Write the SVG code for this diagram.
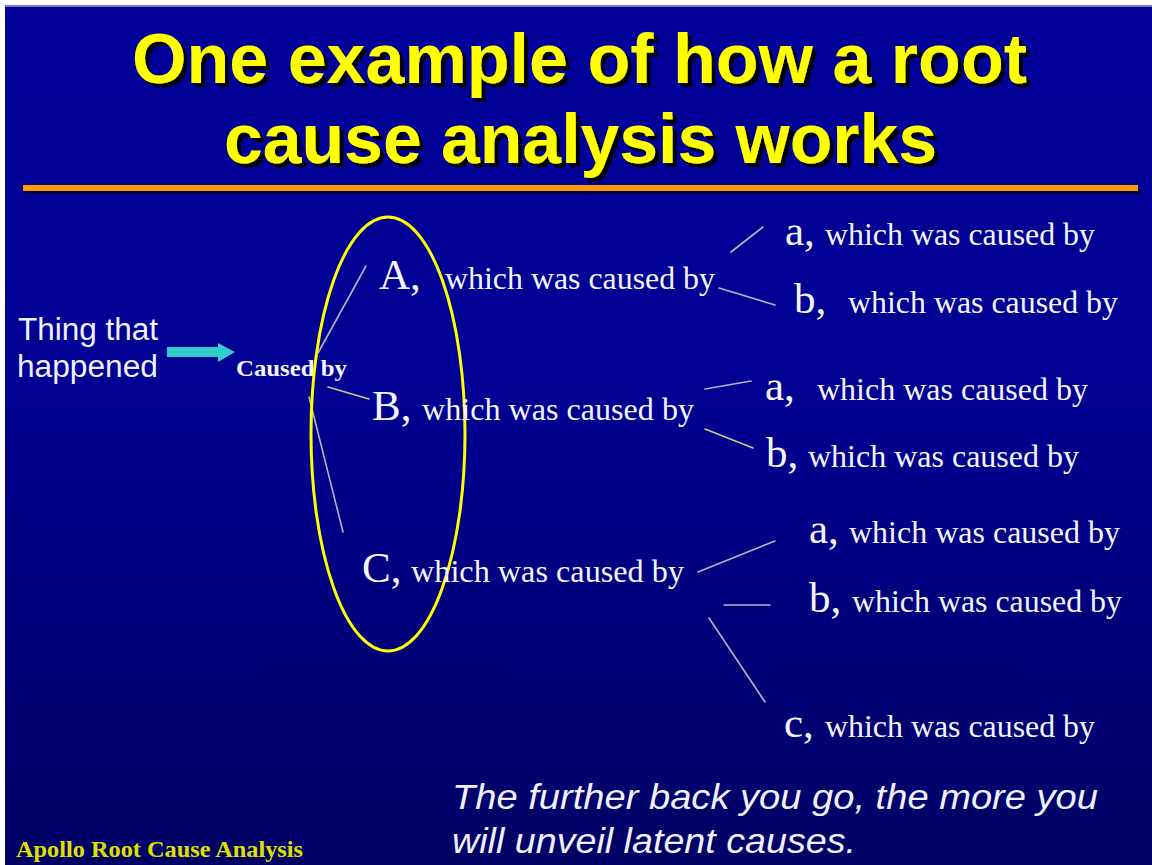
<svg xmlns="http://www.w3.org/2000/svg" width="1152" height="865" viewBox="0 0 1152 865">
  <defs>
    <linearGradient id="bg" x1="0" y1="0" x2="0" y2="1">
      <stop offset="0" stop-color="#000099"/>
      <stop offset="0.45" stop-color="#000092"/>
      <stop offset="1" stop-color="#000064"/>
    </linearGradient>
    <filter id="shadow" x="-5%" y="-20%" width="110%" height="140%">
      <feOffset in="SourceAlpha" dx="4" dy="4" result="off"/>
      <feFlood flood-color="#000000"/>
      <feComposite in2="off" operator="in" result="sh"/>
      <feMerge>
        <feMergeNode in="sh"/>
        <feMergeNode in="SourceGraphic"/>
      </feMerge>
    </filter>
    <style>
      .title { font-family: "Liberation Sans", Arial, sans-serif; font-weight: bold; font-size: 70px; fill: #FFFF00; }
      .sans { font-family: "Liberation Sans", Arial, sans-serif; fill: #F0F0FF; }
      .serif { font-family: "Liberation Serif", "Times New Roman", serif; fill: #F4F4FF; }
      .big { font-size: 43px; }
      .wcb { font-size: 32px; }
      .conn { stroke: #B4B4C8; stroke-width: 1.6; fill: none; stroke-linecap: round; }
      .connY { stroke: #C8C890; stroke-width: 1.6; fill: none; stroke-linecap: round; }
    </style>
  </defs>

  <!-- frame and background -->
  <rect x="0" y="0" width="1152" height="865" fill="#FFFFFF"/>
  <rect x="5" y="5" width="1147" height="860" fill="url(#bg)"/>
  <rect x="5" y="5" width="1147" height="2" fill="#7878CC"/>

  <!-- title -->
  <g id="title" filter="url(#shadow)">
    <text class="title" x="132" y="83" textLength="895" lengthAdjust="spacingAndGlyphs">One example of how a root</text>
    <text class="title" x="224" y="163" textLength="713" lengthAdjust="spacingAndGlyphs">cause analysis works</text>
  </g>

  <!-- orange rule -->
  <g id="rule">
    <rect x="25" y="188" width="1115" height="6" fill="#000000" opacity="0.6"/>
    <rect x="23" y="185" width="1115" height="6" fill="#FF9900"/>
  </g>

  <!-- connectors -->
  <g id="connectors">
    <line class="conn" x1="318" y1="353" x2="366" y2="266"/>
    <line class="connY" x1="328" y1="387" x2="369" y2="399"/>
    <line class="conn" x1="309" y1="397" x2="343" y2="532"/>
    <line class="conn" x1="731" y1="252" x2="763" y2="227"/>
    <line class="conn" x1="719" y1="288" x2="775" y2="305"/>
    <line class="conn" x1="705" y1="389" x2="751" y2="381"/>
    <line class="connY" x1="705" y1="429" x2="753" y2="448"/>
    <line class="conn" x1="698" y1="572" x2="775" y2="541"/>
    <line class="conn" x1="724" y1="605" x2="770" y2="605"/>
    <line class="conn" x1="709" y1="618" x2="765" y2="702"/>
  </g>

  <!-- start node -->
  <g id="thing">
    <text class="sans" x="18" y="340" font-size="31" textLength="140" lengthAdjust="spacingAndGlyphs">Thing that</text>
    <text class="sans" x="17" y="377" font-size="31" textLength="141" lengthAdjust="spacingAndGlyphs">happened</text>
  </g>

  <g id="arrow">
    <polygon points="167,347 218,347 218,343 235,352 218,362 218,357 167,357" fill="#33CCCC"/>
  </g>

  <g id="causedby">
    <text class="serif" x="236" y="376" font-size="23" font-weight="bold" textLength="111" lengthAdjust="spacingAndGlyphs">Caused by</text>
  </g>

  <!-- ellipse -->
  <g id="ellipse">
    <ellipse cx="388" cy="434" rx="77" ry="217" fill="none" stroke="#FFFF00" stroke-width="3"/>
  </g>

  <!-- first level -->
  <g id="nodeA">
    <text class="serif big" x="379" y="289">A,</text>
    <text class="serif wcb" x="445" y="289" textLength="270" lengthAdjust="spacingAndGlyphs">which was caused by</text>
  </g>
  <g id="nodeB">
    <text class="serif big" x="372" y="420">B,</text>
    <text class="serif wcb" x="422" y="420" textLength="272" lengthAdjust="spacingAndGlyphs">which was caused by</text>
  </g>
  <g id="nodeC">
    <text class="serif big" x="362" y="582">C,</text>
    <text class="serif wcb" x="411" y="582" textLength="273" lengthAdjust="spacingAndGlyphs">which was caused by</text>
  </g>

  <!-- second level -->
  <g id="nodeAa">
    <text class="serif big" x="785" y="245">a,</text>
    <text class="serif wcb" x="825" y="245" textLength="270" lengthAdjust="spacingAndGlyphs">which was caused by</text>
  </g>
  <g id="nodeAb">
    <text class="serif big" x="794" y="313">b,</text>
    <text class="serif wcb" x="848" y="313" textLength="270" lengthAdjust="spacingAndGlyphs">which was caused by</text>
  </g>
  <g id="nodeBa">
    <text class="serif big" x="765" y="400">a,</text>
    <text class="serif wcb" x="817" y="400" textLength="271" lengthAdjust="spacingAndGlyphs">which was caused by</text>
  </g>
  <g id="nodeBb">
    <text class="serif big" x="766" y="467">b,</text>
    <text class="serif wcb" x="808" y="467" textLength="271" lengthAdjust="spacingAndGlyphs">which was caused by</text>
  </g>
  <g id="nodeCa">
    <text class="serif big" x="809" y="543">a,</text>
    <text class="serif wcb" x="849" y="543" textLength="271" lengthAdjust="spacingAndGlyphs">which was caused by</text>
  </g>
  <g id="nodeCb">
    <text class="serif big" x="809" y="612">b,</text>
    <text class="serif wcb" x="852" y="612" textLength="270" lengthAdjust="spacingAndGlyphs">which was caused by</text>
  </g>
  <g id="nodeCc">
    <text class="serif big" x="784" y="737">c,</text>
    <text class="serif wcb" x="825" y="737" textLength="270" lengthAdjust="spacingAndGlyphs">which was caused by</text>
  </g>

  <!-- bottom text -->
  <g id="note">
    <text class="sans" x="452" y="809" font-size="35" font-style="italic" textLength="646" lengthAdjust="spacingAndGlyphs">The further back you go, the more you</text>
    <text class="sans" x="452" y="853" font-size="35" font-style="italic" textLength="404" lengthAdjust="spacingAndGlyphs">will unveil latent causes.</text>
  </g>

  <g id="footer">
    <text x="16" y="857" font-family="'Liberation Serif', 'Times New Roman', serif" font-size="23" font-weight="bold" fill="#E0E000" textLength="287" lengthAdjust="spacingAndGlyphs">Apollo Root Cause Analysis</text>
  </g>
</svg>
